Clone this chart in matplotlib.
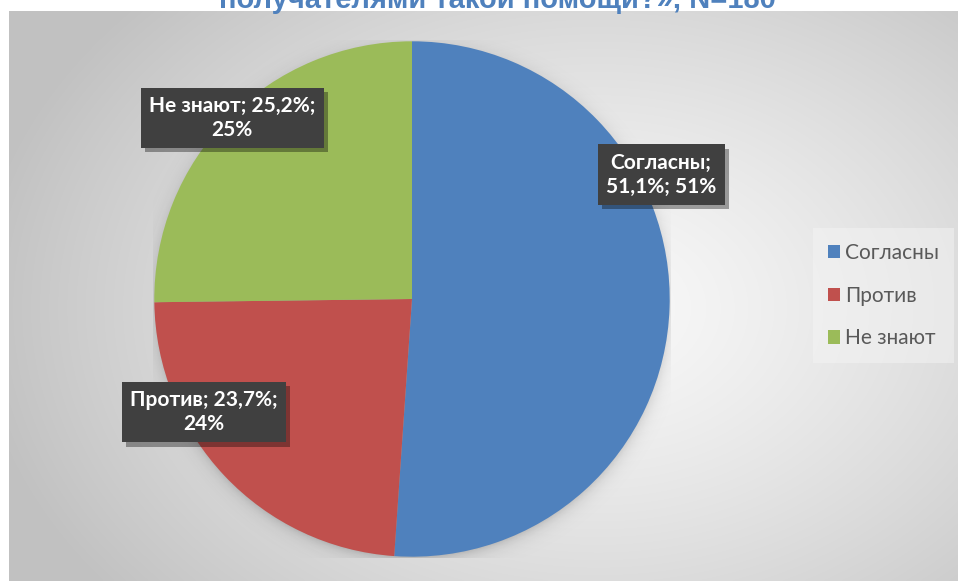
import numpy as np
import matplotlib
matplotlib.use("Agg")
import matplotlib.pyplot as plt
from matplotlib import patheffects as pe

# ---- data ----
categories = ["Согласны", "Против", "Не знают"]
values = [51.1, 23.7, 25.2]
colors = ["#4F81BD", "#C0504D", "#9BBB59"]
title = "получателями такой помощи?», N=180"

# label layout: (angle deg, radius fraction, break after name?)
label_pos = [(26.5, 1.075, True), (208.5, 0.915, False), (134.8, 0.985, False)]

W, H = 958, 581
fig = plt.figure(figsize=(W / 100, H / 100), dpi=100)
fig.patch.set_facecolor("white")

# background gradient
bg = fig.add_axes([9 / W, 0, 1 - 9 / W, (H - 11) / H])
ny, nx = 300, 500
yy, xx = np.mgrid[0:ny, 0:nx]
cx, cy = 0.62 * nx, 0.52 * ny
d = np.sqrt(((xx - cx) / (nx * 0.62)) ** 2 + ((yy - cy) / (ny * 0.75)) ** 2)
v = np.clip(0.975 - 0.2 * d ** 1.3, 0.76, 0.975)
img = np.dstack([v, v, v])
bg.imshow(img, aspect="auto", extent=(0, 1, 0, 1), interpolation="bilinear")
bg.set_axis_off()

# title (partially cut off at the top)
fig.text(497 / W, 1 - 8 / H, title, ha="center", va="baseline",
         fontsize=21, fontweight="bold", color="#4F81BD",
         family=["Liberation Sans", "DejaVu Sans"], zorder=0)

# pie axes
cxp, cyp, R = 412, 299, 259
ax = fig.add_axes([(cxp - R) / W, (H - cyp - R) / H, 2 * R / W, 2 * R / H])
ax.set_xlim(-1, 1)
ax.set_ylim(-1, 1)

# soft shadow under the pie
g = np.linspace(-1, 1, 400)
GX, GY = np.meshgrid(g, g)
DD = np.sqrt((GX - 0.0) ** 2 + (GY + 0.015) ** 2)
alpha = np.where(DD > 0.97, 0.28 * np.exp(-(DD - 0.97) / 0.025), 0.28)
sh = np.zeros((400, 400, 4))
sh[..., 3] = np.clip(alpha, 0, 1)
ax.imshow(sh, extent=(-1, 1, -1, 1), origin="lower", zorder=0, aspect="auto")

wedges, _ = ax.pie(values, colors=colors, startangle=90, counterclock=False,
                   radius=0.995, wedgeprops=dict(linewidth=0))
for w in wedges:
    w.set_zorder(2)
ax.set_xlim(-1, 1)
ax.set_ylim(-1, 1)
ax.set_aspect("auto")
ax.set_axis_off()

lab_font = ["Lato", "DejaVu Sans"]
for cat, val, (ang, rf, brk) in zip(categories, values, label_pos):
    pct = f"{val:.1f}".replace(".", ",") + "%"
    rnd = f"{round(val):d}%"
    if brk:
        txt = f"{cat};\n{pct}; {rnd}"
    else:
        txt = f"{cat}; {pct};\n{rnd}"
    x = rf * np.cos(np.radians(ang))
    y = rf * np.sin(np.radians(ang))
    t = ax.text(x, y, txt, ha="center", va="center", ma="center",
                fontsize=15, fontweight="bold", color="white", family=lab_font,
                linespacing=1.25, zorder=5,
                bbox=dict(boxstyle="square,pad=0.4", facecolor="#404040",
                          edgecolor="none"))
    t.get_bbox_patch().set_path_effects(
        [pe.SimplePatchShadow(offset=(3, -3), shadow_rgbFace="black", alpha=0.35),
         pe.Normal()])

leg = fig.legend(wedges, categories, loc="upper left",
                 bbox_to_anchor=(813 / W, 1 - 228 / H),
                 frameon=True, fancybox=False, framealpha=0.5,
                 facecolor="#f4f4f4", edgecolor="none",
                 prop=dict(family=["Lato", "DejaVu Sans"], size=15),
                 handlelength=0.6, handleheight=0.6, handletextpad=0.25,
                 labelspacing=1.1, borderpad=0.7, borderaxespad=0)
for t in leg.get_texts():
    t.set_color("#595959")

fig.savefig("out.png", dpi=100)
